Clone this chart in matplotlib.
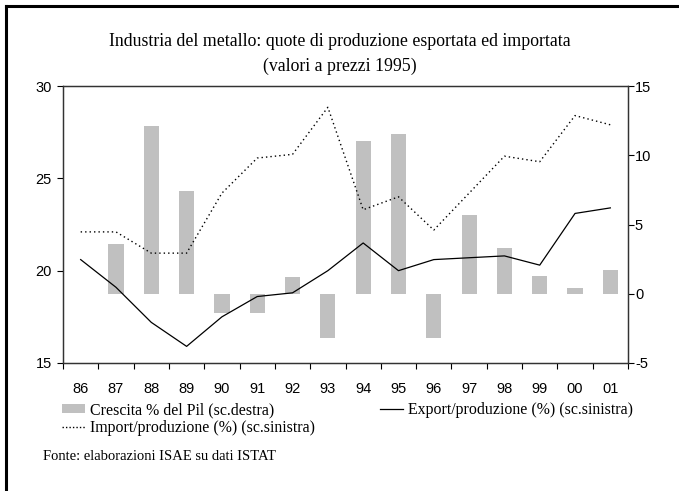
import matplotlib

matplotlib.use("Agg")
import matplotlib.pyplot as plt
from matplotlib.lines import Line2D
from matplotlib.patches import Patch

# ---- data ----
years = ["86", "87", "88", "89", "90", "91", "92", "93",
         "94", "95", "96", "97", "98", "99", "00", "01"]
# GDP growth % (right axis); 1986 has no bar
pil_growth = [0.0, 3.6, 12.1, 7.4, -1.4, -1.4, 1.2, -3.2,
              11.0, 11.5, -3.2, 5.7, 3.3, 1.3, 0.4, 1.7]
# export / production % (left axis)
export_share = [20.6, 19.1, 17.2, 15.9, 17.5, 18.6, 18.8, 20.0,
                21.5, 20.0, 20.6, 20.7, 20.8, 20.3, 23.1, 23.4]
# import / production % (left axis)
import_share = [22.1, 22.1, 20.95, 20.95, 24.2, 26.1, 26.3, 28.85,
                23.3, 24.0, 22.2, 24.2, 26.2, 25.9, 28.4, 27.9]

SERIF = "Liberation Serif"
SANS = "Liberation Sans"
BAR_GREY = "#c0c0c0"
plt.rcParams["axes.unicode_minus"] = False

fig = plt.figure(figsize=(6.79, 4.91), dpi=100)
ax = fig.add_axes([0.0928, 0.2607, 0.8321, 0.5641])
ax2 = ax.twinx()

x = list(range(len(years)))

# bars on the right scale, drawn underneath the lines
ax2.bar(x, pil_growth, width=0.43, color=BAR_GREY, zorder=1)
ax2.set_ylim(-5, 15)
ax2.set_yticks([-5, 0, 5, 10, 15])

ax.set_zorder(ax2.get_zorder() + 1)
ax.patch.set_visible(False)
ax.plot(x, export_share, color="black", lw=0.9)
ax.plot(x, import_share, color="black", lw=1.0, ls=(0, (1, 2.2)))
ax.set_ylim(15, 30)
ax.set_yticks([15, 20, 25, 30])
ax.set_xlim(-0.5, len(years) - 0.5)

# ticks between categories, labels centred on them
ax.set_xticks([i - 0.5 for i in range(len(years) + 1)])
ax.set_xticklabels([])
ax.set_xticks(x, minor=True)
ax.set_xticklabels(years, minor=True)
ax.tick_params(axis="x", which="minor", length=0, pad=14)
ax.tick_params(axis="x", which="major", length=4, direction="out")
ax.tick_params(axis="y", length=4, direction="out", pad=4)
ax2.tick_params(axis="y", length=4, direction="out", pad=1)

for a in (ax, ax2):
    for lab in a.get_yticklabels() + a.get_xticklabels(which="both"):
        lab.set_fontfamily(SANS)
        lab.set_fontsize(10.5)
    for sp in a.spines.values():
        sp.set_linewidth(0.9)
        sp.set_color("#333333")

fig.text(0.5, 0.916, "Industria del metallo: quote di produzione esportata ed importata",
         ha="center", va="center", family=SERIF, fontsize=12.8)
fig.text(0.5, 0.864, "(valori a prezzi 1995)",
         ha="center", va="center", family=SERIF, fontsize=12.8)

legend_kw = dict(frameon=False, prop={"family": SERIF, "size": 11.4},
                 handlelength=1.45, handleheight=0.55, handletextpad=0.35,
                 labelspacing=0.1, borderaxespad=0, borderpad=0)
left_handles = [
    Patch(facecolor=BAR_GREY, edgecolor="none", label="Crescita % del Pil (sc.destra)"),
    Line2D([], [], color="black", lw=1.0, ls=(0, (1, 1.5)),
           label="Import/produzione (%) (sc.sinistra)"),
]
fig.legend(handles=left_handles, loc="center left",
           bbox_to_anchor=(0.0913, 0.1466), **legend_kw)
fig.legend(handles=[Line2D([], [], color="black", lw=0.9,
                           label="Export/produzione (%) (sc.sinistra)")],
           loc="center left", bbox_to_anchor=(0.5596, 0.165), **legend_kw)

fig.text(0.0633, 0.071, "Fonte: elaborazioni ISAE su dati ISTAT",
         family=SERIF, fontsize=10.5, va="center")

# frame lines on the top and left of the picture
fig.add_artist(Line2D([0.009, 1.0], [0.987, 0.987], color="black", lw=2.2))
fig.add_artist(Line2D([0.009, 0.009], [0.0, 0.987], color="black", lw=2.2))

fig.savefig("out.png", dpi=100)
